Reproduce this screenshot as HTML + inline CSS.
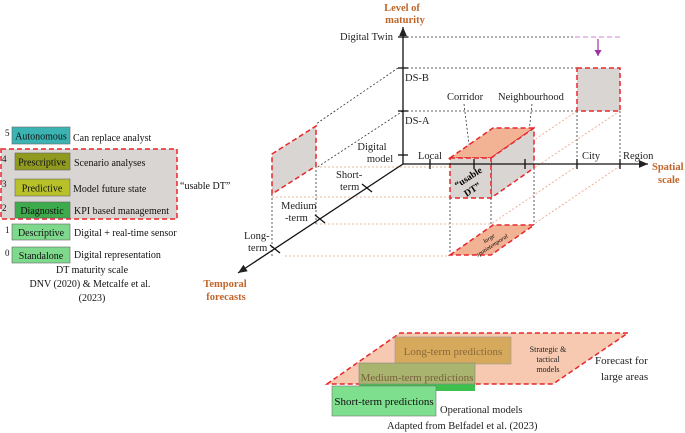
<!DOCTYPE html>
<html><head><meta charset="utf-8"><style>
html,body{margin:0;padding:0;background:#fff;}
svg{display:block;font-family:"Liberation Serif",serif;}
</style></head><body>
<svg width="685" height="433" viewBox="0 0 685 433" xmlns="http://www.w3.org/2000/svg">
<defs>
<marker id="ar" markerWidth="8" markerHeight="8" refX="7" refY="4" orient="auto"><path d="M0,1 L7,4 L0,7 z" fill="#222"/></marker>
<marker id="arp" markerWidth="6" markerHeight="6" refX="5" refY="3" orient="auto"><path d="M0,0 L5,3 L0,6 z" fill="#a030a0"/></marker>
</defs>
<!-- Legend -->
<rect x="1" y="149" width="176" height="70" fill="#d9d5d2" stroke="#e8262a" stroke-width="1.5" stroke-dasharray="5,3"/>
<g font-size="10" fill="#111">
<rect x="12" y="127" width="58" height="17" fill="#3bb3b3" stroke="#666" stroke-width="0.6"/>
<text x="41" y="139.5" text-anchor="middle">Autonomous</text>
<rect x="15" y="153" width="55" height="17" fill="#8f9a1f" stroke="#666" stroke-width="0.6"/>
<text x="42" y="165.5" text-anchor="middle">Prescriptive</text>
<rect x="15" y="179" width="55" height="17" fill="#b8c12a" stroke="#666" stroke-width="0.6"/>
<text x="42" y="191.5" text-anchor="middle">Predictive</text>
<rect x="15" y="202" width="55" height="16" fill="#3daa4c" stroke="#666" stroke-width="0.6"/>
<text x="42" y="214" text-anchor="middle">Diagnostic</text>
<rect x="12" y="224" width="58" height="16" fill="#7ed98c" stroke="#666" stroke-width="0.6"/>
<text x="41" y="236" text-anchor="middle">Descriptive</text>
<rect x="12" y="247" width="58" height="16" fill="#7ed98c" stroke="#666" stroke-width="0.6"/>
<text x="41" y="259" text-anchor="middle">Standalone</text>
<text x="5" y="136" font-size="9">5</text><text x="2" y="162" font-size="9">4</text><text x="2" y="187" font-size="9">3</text><text x="2" y="211" font-size="9">2</text><text x="5" y="233" font-size="9">1</text><text x="5" y="256" font-size="9">0</text>
<text x="73" y="141">Can replace analyst</text>
<text x="74" y="166">Scenario analyses</text>
<text x="73" y="192">Model future state</text>
<text x="74" y="214">KPI based management</text>
<text x="74" y="236">Digital + real-time sensor</text>
<text x="74" y="258">Digital representation</text>
<text x="180" y="189">“usable DT”</text>
<text x="92" y="273" text-anchor="middle">DT maturity scale</text>
<text x="90" y="287" text-anchor="middle">DNV (2020)  &amp; Metcalfe et al.</text>
<text x="92" y="301" text-anchor="middle">(2023)</text>
</g>
<!-- dotted guide lines -->
<g stroke="#333" stroke-width="0.8" stroke-dasharray="2,2" fill="none">
<line x1="403" y1="37" x2="575" y2="37"/>
<line x1="403" y1="68" x2="577" y2="68"/>
<line x1="403" y1="111" x2="577" y2="111"/>
<line x1="398" y1="68" x2="316" y2="124"/>
<line x1="403" y1="111" x2="316" y2="168"/>
<line x1="272" y1="194" x2="272" y2="256"/>
<line x1="316" y1="166" x2="316" y2="224"/>
<line x1="450" y1="198" x2="450" y2="255"/>
<line x1="491" y1="198" x2="491" y2="255"/>
<line x1="534" y1="168" x2="534" y2="225"/>
<line x1="577" y1="111" x2="577" y2="164"/>
<line x1="620" y1="111" x2="620" y2="164"/>
<line x1="464" y1="104" x2="471" y2="160"/>
<line x1="532" y1="104" x2="526" y2="160"/>
</g>
<g stroke="#e8a080" stroke-width="0.8" stroke-dasharray="2,2" fill="none">
<line x1="272" y1="167" x2="450" y2="167"/>
<line x1="272" y1="197" x2="450" y2="197"/>
<line x1="316" y1="224" x2="493" y2="224"/>
<line x1="285" y1="256" x2="450" y2="256"/>
<line x1="577" y1="111" x2="534" y2="140"/>
<line x1="620" y1="111" x2="534" y2="168"/>
<line x1="577" y1="166" x2="491" y2="224"/>
<line x1="620" y1="166" x2="534" y2="224"/>
</g>
<line x1="575" y1="37" x2="620" y2="37" stroke="#d080d0" stroke-width="1" stroke-dasharray="5,3"/>
<line x1="598" y1="39" x2="598" y2="56" stroke="#a030a0" stroke-width="1.2" marker-end="url(#arp)"/>
<!-- shapes -->
<g stroke="#e8262a" stroke-width="1.5" stroke-dasharray="5,3">
<polygon points="272,154 316,126 316,166 272,194" fill="#d9d5d2"/>
<rect x="577" y="68" width="43" height="43" fill="#d9d5d2"/>
<polygon points="450,158 493,128 534,128 491,158" fill="#f2b394"/>
<polygon points="491,158 534,128 534,168 491,198" fill="#d9d5d2"/>
<rect x="450" y="158" width="41" height="40" fill="#d9d5d2"/>
<polygon points="450,255 493,225 534,225 491,255" fill="#f2b394"/>
</g>
<!-- axes -->
<g stroke="#111" stroke-width="1.3" fill="none">
<line x1="403" y1="164" x2="403" y2="27" marker-end="url(#ar)"/>
<line x1="403" y1="164" x2="648" y2="164" marker-end="url(#ar)"/>
<line x1="403" y1="164" x2="238" y2="273" marker-end="url(#ar)"/>
<line x1="398" y1="37" x2="408" y2="37"/><line x1="398" y1="68" x2="408" y2="68"/><line x1="398" y1="111" x2="408" y2="111"/><line x1="398" y1="155" x2="408" y2="155"/>
<line x1="430" y1="159" x2="430" y2="169"/><line x1="474" y1="159" x2="474" y2="169"/><line x1="525" y1="159" x2="525" y2="169"/><line x1="577" y1="159" x2="577" y2="169"/><line x1="620" y1="159" x2="620" y2="169"/>
<line x1="362" y1="184" x2="372" y2="192"/><line x1="315" y1="215" x2="325" y2="223"/><line x1="270" y1="245" x2="280" y2="253"/>
</g>
<g font-size="10.5" fill="#222">
<text x="340" y="40">Digital Twin</text>
<text x="405" y="81">DS-B</text>
<text x="405" y="124">DS-A</text>
<text x="372" y="150" text-anchor="middle">Digital</text><text x="380" y="162" text-anchor="middle">model</text>
<text x="418" y="159">Local</text>
<text x="447" y="100">Corridor</text>
<text x="498" y="100">Neighbourhood</text>
<text x="582" y="159">City</text>
<text x="623" y="159">Region</text>
<text x="336" y="178">Short-</text><text x="340" y="190">term</text>
<text x="281" y="209">Medium</text><text x="285" y="221">-term</text>
<text x="244" y="239">Long-</text><text x="248" y="251">term</text>
<text x="440" y="413">Operational models</text>
<text x="387" y="429">Adapted from Belfadel et al. (2023)</text>
<text x="595" y="364" font-size="11">Forecast for</text><text x="601" y="380" font-size="11">large areas</text>
</g>
<g font-weight="bold" fill="#c0652a" font-size="10.5">
<text x="402" y="11" text-anchor="middle">Level of</text><text x="405" y="23" text-anchor="middle">maturity</text>
<text x="652" y="170">Spatial</text><text x="658" y="183">scale</text>
<text x="225" y="287" text-anchor="middle">Temporal</text><text x="226" y="300" text-anchor="middle">forecasts</text>
</g>
<text transform="translate(470,180) rotate(-33)" font-size="9.5" font-weight="bold" text-anchor="middle">“usable</text>
<text transform="translate(474,192) rotate(-33)" font-size="9.5" font-weight="bold" text-anchor="middle">DT”</text>
<text transform="translate(490,240) rotate(-33)" font-size="6" font-style="italic" text-anchor="middle">large</text>
<text transform="translate(493,247) rotate(-33)" font-size="6" font-style="italic" text-anchor="middle">spatiotemporal</text>
<!-- bottom -->
<polygon points="327,384 400,333 628,333 553,384" fill="#f6c9b0" stroke="#e8262a" stroke-width="1.5" stroke-dasharray="5,3"/>
<rect x="395" y="337" width="116" height="27" fill="#d6a95c" stroke="#999" stroke-width="0.6"/>
<text x="453" y="355" text-anchor="middle" font-size="11" fill="#8a6a3a">Long-term predictions</text>
<rect x="359" y="363" width="116" height="28" fill="#3ec04e"/>
<rect x="359" y="363" width="116" height="21" fill="#a9b46e" stroke="#888" stroke-width="0.6"/>
<text x="417" y="381" text-anchor="middle" font-size="11" fill="#7a6040">Medium-term predictions</text>
<rect x="332" y="386" width="104" height="30" fill="#7ee08e" stroke="#777" stroke-width="0.6"/>
<text x="384" y="405" text-anchor="middle" font-size="11" fill="#111">Short-term predictions</text>
<g font-size="8" fill="#222" text-anchor="middle"><text x="548" y="352">Strategic &amp;</text><text x="548" y="362">tactical</text><text x="548" y="372">models</text></g>
</svg>
</body></html>
